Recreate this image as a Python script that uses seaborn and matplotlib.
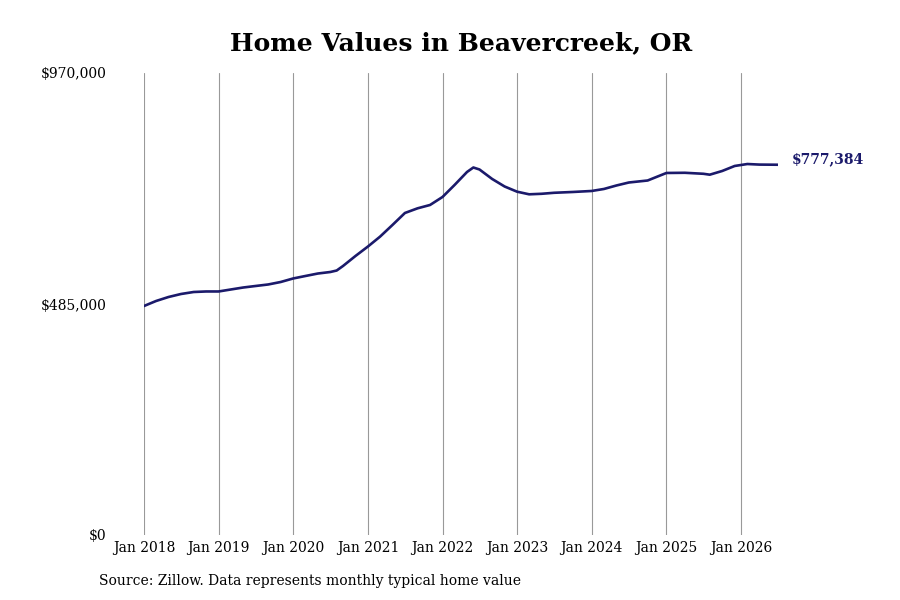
import matplotlib
matplotlib.use("Agg")
import matplotlib.pyplot as plt
import matplotlib.dates as mdates
import matplotlib.ticker as mticker
import pandas as pd
import seaborn as sns

sns.set_style("white")
plt.rcParams['font.family'] = ['DejaVu Serif']
plt.rcParams['text.color'] = 'black'
plt.rcParams['xtick.color'] = 'black'
plt.rcParams['ytick.color'] = 'black'

# values (about every two months)
dates = ["2018-01", "2018-03", "2018-05", "2018-07", "2018-09", "2018-11",
         "2019-01", "2019-03", "2019-05", "2019-07", "2019-09", "2019-11",
         "2020-01", "2020-03", "2020-05", "2020-07", "2020-08", "2020-09", "2020-11",
         "2021-01", "2021-03", "2021-05", "2021-07", "2021-09", "2021-11",
         "2022-01", "2022-03", "2022-05", "2022-06", "2022-07", "2022-09", "2022-11",
         "2023-01", "2023-03", "2023-05", "2023-07", "2023-10",
         "2024-01", "2024-03", "2024-05", "2024-07", "2024-10", "2024-12",
         "2025-01", "2025-04", "2025-07", "2025-08", "2025-10", "2025-12",
         "2026-02", "2026-04", "2026-07"]
values = [480800, 491300, 499700, 506000, 510200, 511300,
          511300, 515400, 519600, 522800, 526000, 531200,
          538600, 543800, 549000, 552200, 555300, 564800, 585800,
          605700, 626300, 650900, 676100, 685900, 692900,
          709700, 734900, 762200, 771600, 767400, 747500, 731700,
          720800, 715300, 716400, 718500, 720200,
          722300, 726500, 733800, 740100, 744300, 754800,
          760100, 760500, 758400, 756500, 764300, 774800,
          778900, 777700, 777384]
year_ticks = ["2018-01", "2019-01", "2020-01", "2021-01", "2022-01",
              "2023-01", "2024-01", "2025-01", "2026-01"]
y_ticks = [0, 485000, 970000]

df = pd.DataFrame({"date": pd.to_datetime(dates), "value": values})

fig = plt.figure(figsize=(9, 6), dpi=100)
ax = fig.add_axes([144/900, 65/600, 634/900, 462/600])

sns.lineplot(data=df, x="date", y="value", ax=ax, color="#1b1a6b", linewidth=1.9,
             solid_joinstyle="round", solid_capstyle="round")

ax.set_xlim(df["date"].iloc[0], df["date"].iloc[-1])
ax.set_ylim(0, 970000)
ax.set_xticks(pd.to_datetime(year_ticks))
ax.xaxis.set_major_formatter(mdates.DateFormatter("Jan %Y"))
ax.set_yticks(y_ticks)
ax.yaxis.set_major_formatter(mticker.FuncFormatter(lambda v, p: f"${v:,.0f}"))
ax.grid(axis="x", color="#999999", linewidth=0.8)
ax.grid(axis="y", visible=False)
ax.tick_params(axis="x", length=0, pad=4, labelsize=10)
ax.tick_params(axis="y", length=0, pad=27, labelsize=10)
for s in ax.spines.values():
    s.set_visible(False)
ax.set_xlabel("")
ax.set_ylabel("")

last = df.iloc[-1]
ax.annotate(f"${last['value']:,.0f}", (last["date"], last["value"]),
            xytext=(10, 4), textcoords="offset points", va="center", ha="left",
            fontsize=10, fontweight="bold", color="#1b1a6b", annotation_clip=False)

fig.text(461/900, 1 - 43/600, "Home Values in Beavercreek, OR",
         ha="center", va="center", fontsize=18, fontweight="bold", color="black")
fig.text(99/900, 1 - 581/600, "Source: Zillow. Data represents monthly typical home value",
         ha="left", va="center", fontsize=10, color="black")

fig.savefig("out.png", dpi=100)
